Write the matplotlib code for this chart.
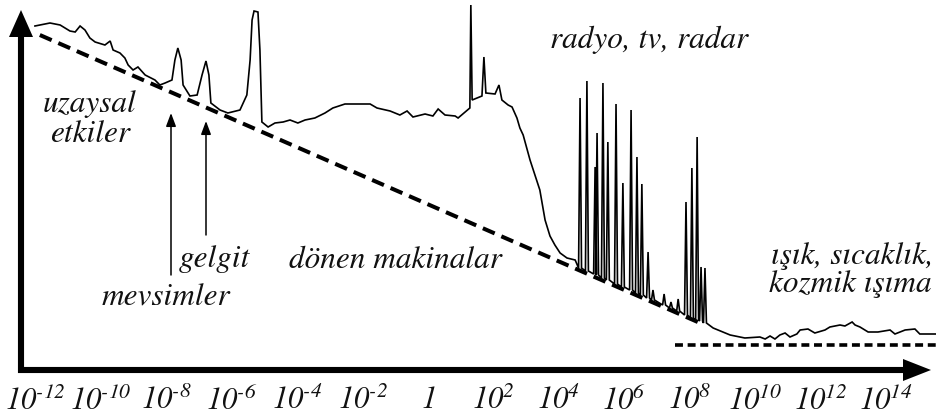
import matplotlib
matplotlib.use("Agg")
from matplotlib import pyplot as plt
import numpy as np

plt.rcParams['mathtext.fontset'] = 'custom'
plt.rcParams['mathtext.rm'] = 'STIXGeneral:italic'
plt.rcParams['mathtext.it'] = 'STIXGeneral:italic'
plt.rcParams['mathtext.default'] = 'it'

# genel gurultu egrisi (log10 frekans, seviye)
noise_exp = [-12.02, -11.56, -11.25, -10.95, -10.79, -10.64, -10.49, -10.34, -10.18, -9.88,
             -9.72, -9.63, -9.42, -9.27, -9.17, -9.02, -8.87, -8.65, -8.35, -8.20,
             -8.04, -7.83, -7.74, -7.65, -7.55, -7.49, -7.28, -7.06, -6.91, -6.79,
             -6.70, -6.64, -6.36, -6.12, -5.75, -5.54, -5.44, -5.38, -5.32, -5.20,
             -5.14, -5.08, -4.89, -4.68, -4.43, -4.22, -3.98, -3.76, -3.46, -3.15,
             -2.91, -2.54, -1.77, -1.56, -1.16, -0.86, -0.64, -0.46, -0.09, 0.15,
             0.31, 0.52, 0.83, 0.92, 1.28, 1.31, 1.35, 1.65, 1.71, 1.77,
             2.05, 2.17, 2.26, 2.45, 2.57, 2.72, 2.81, 2.91, 3.12, 3.42,
             3.58, 3.73, 3.88, 4.04, 4.25, 4.50]
noise_lvl = [344, 347, 345, 339, 338, 344, 340, 332, 328, 325,
             329, 320, 317, 312, 305, 300, 303, 295, 290, 285,
             287, 290, 310, 322, 310, 285, 274, 275, 295, 309,
             295, 267, 260, 257, 260, 275, 310, 350, 359, 358,
             320, 248, 243, 247, 248, 250, 247, 250, 252, 257,
             262, 266, 266, 262, 259, 255, 259, 253, 256, 254,
             261, 255, 254, 252, 262, 365, 270, 274, 313, 277,
             276, 285, 270, 265, 263, 252, 242, 235, 210, 180,
             150, 134, 125, 117, 112, 110]

# radyo, tv, radar tepeleri
spike_exp = [4.65, 4.86, 5.11, 5.17, 5.35, 5.50, 5.75, 5.96, 6.21, 6.39,
             6.54, 6.73, 6.88, 7.22, 7.43, 7.65, 7.89, 8.07, 8.23, 8.35, 8.47]
spike_top = [272, 289, 203, 237, 287, 228, 266, 187, 260, 213,
             186, 118, 80, 76, 68, 71, 168, 202, 233, 103, 102]
spike_base = [102, 99, 96, 95, 92, 90, 86, 83, 80, 77,
              75, 72, 70, 65, 62, 59, 55, 52, 50, 49, 47]

# isik, sicaklik, kozmik isima bolgesi
tail_exp = [8.72, 9.24, 9.69, 10.15, 10.31, 10.46, 10.61, 10.76, 10.92, 11.07,
            11.28, 11.38, 11.62, 11.83, 12.14, 12.29, 12.60, 12.75, 12.97, 13.06,
            13.21, 13.46, 13.76, 14.13, 14.28, 14.59, 14.89, 15.04, 15.57]
tail_lvl = [42, 35, 32, 33, 31, 34, 31, 35, 37, 33,
            36, 40, 41, 37, 40, 43, 45, 44, 48, 45,
            43, 38, 38, 40, 36, 40, 41, 36, 36]

# kesikli cizgiler
trend_exp = [-11.87, 8.32]
trend_lvl = [335, 47]
floor_exp = [7.55, 15.57]
floor_lvl = [25, 25]

tick_exp = [-12, -10, -8, -6, -4, -2, 0, 2, 4, 6, 8, 10, 12, 14]

# egriyi birlestir
xs = list(noise_exp)
ys = list(noise_lvl)
d = 0.045
for e, t, b in zip(spike_exp, spike_top, spike_base):
    xs += [e - d, e, e + d]
    ys += [b, t, b]
xs += tail_exp
ys += tail_lvl

W, H = 937, 418
fig = plt.figure(figsize=(W / 100, H / 100), dpi=100)
ax = fig.add_axes([0, 48 / H, 1, 370 / H])
ax.set_xscale('log')
ax.set_xlim(10 ** (-428 / 32.7), 10 ** ((W - 428) / 32.7))
ax.set_ylim(0, 370)
for s in ax.spines.values():
    s.set_visible(False)
ax.set_yticks([])

ax.plot(10.0 ** np.array(xs), ys, color='black', lw=1.2, solid_joinstyle='miter')
ax.plot(10.0 ** np.array(trend_exp), trend_lvl, color='black', lw=2.9, dashes=(3.2, 1.8))
ax.plot(10.0 ** np.array(floor_exp), floor_lvl, color='black', lw=2.6, dashes=(2.2, 1.3))

labels = []
for e in tick_exp:
    if e == 0:
        labels.append('$1$')
    else:
        labels.append(r'$10^{\text{%d}}$' % e)
ax.set_xticks(10.0 ** np.array(tick_exp))
ax.set_xticklabels(labels, fontsize=22)
ax.xaxis.set_minor_locator(matplotlib.ticker.NullLocator())
ax.tick_params(axis='x', length=0, pad=11, colors='#111111')

# eksen oklari ve yazilar (piksel koordinatlari)
deco = fig.add_axes([0, 0, 1, 1], facecolor='none')
deco.set_xlim(0, W)
deco.set_ylim(H, 0)
deco.axis('off')
deco.plot([21, 21, 904], [37, 370, 370], color='black', lw=4.4,
          solid_joinstyle='miter', solid_capstyle='butt')
deco.fill([9, 33, 21], [37, 37, 10], color='black', lw=0)
deco.fill([903, 903, 931], [359, 381, 370], color='black', lw=0)

for x0, y_tip, y_end in [(171, 113, 275), (206, 121, 235)]:
    deco.annotate('', xy=(x0, y_tip), xytext=(x0, y_end),
                  arrowprops=dict(arrowstyle='-|>,head_length=0.8,head_width=0.3',
                                  mutation_scale=10, lw=1.1, color='black',
                                  shrinkA=0, shrinkB=0))

tf = dict(family=['STIXGeneral', 'DejaVu Serif'], style='italic', fontsize=22.5,
          color='#111111', va='baseline', ha='center')
deco.text(90, 112, 'uzaysal', **tf)
deco.text(90, 142, 'etkiler', **tf)
deco.text(214, 267, 'gelgit', **tf)
deco.text(166, 305, 'mevsimler', **tf)
deco.text(395, 268, 'dönen makinalar', **tf)
deco.text(649, 48, 'radyo, tv, radar', **tf)
deco.text(852, 264, 'ışık, sıcaklık,', **tf)
deco.text(850, 292, 'kozmik ışıma', **tf)

fig.savefig('out.png', dpi=100)
